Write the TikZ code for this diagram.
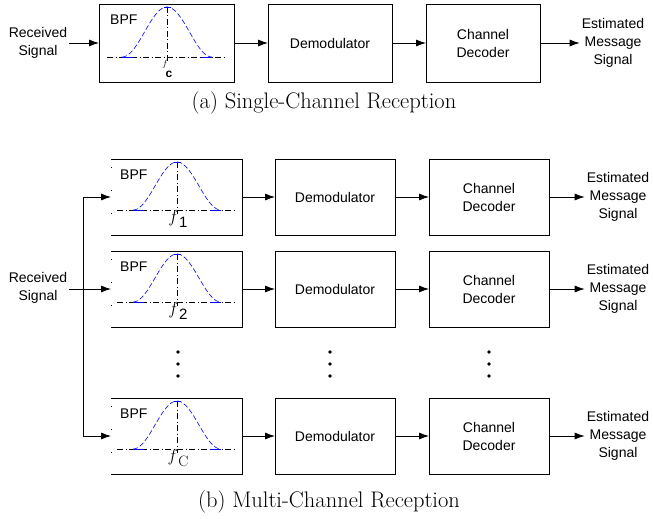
\documentclass[tikz,border=0pt]{standalone}
\usepackage{fontspec}
\setsansfont{Liberation Sans}
\usetikzlibrary{arrows.meta}

% Raised-cosine pass-band sketch inside a BPF box:
% #1 = centre x, #2 = baseline y, #3 = peak height, #4 = half width
\newcommand{\passband}[4]{%
  \draw[gausscurve] plot[domain=-#4:#4, samples=70]
    ({#1+\x}, {#2-#3*(1+cos(180*\x/#4))/2});
  \draw[gausstail] (#1-#4,#2) -- (#1-#4+11,#2);
  \draw[gausstail] (#1+#4-11,#2) -- (#1+#4,#2);
  \draw[gausstail] (#1-3.5,#2-#3) -- (#1+3.5,#2-#3);
}

\begin{document}
\begin{tikzpicture}[x=1pt, y=-1pt,
  blk/.style={draw, line width=0.9pt, inner sep=0pt, outer sep=0pt,
              font=\sffamily\fontsize{14}{18}\selectfont, align=center},
  frame/.style={line width=0.9pt},
  lbl/.style={font=\sffamily\fontsize{14}{18}\selectfont, align=center, inner sep=2pt},
  subcaption/.style={font=\rmfamily\fontsize{22.5}{24}\selectfont, inner sep=0pt},
  arr/.style={line width=0.8pt, -{Latex[length=10pt, width=7pt]}},
  axisline/.style={line width=0.7pt, dash pattern=on 6pt off 2.5pt on 1pt off 2.5pt},
  gausscurve/.style={blue, line width=0.6pt, dash pattern=on 5pt off 2.5pt},
  gausstail/.style={blue, line width=0.8pt},
  leftdots/.style={line width=0.9pt, dash pattern=on 1pt off 22pt},
  dot/.style={circle, fill, inner sep=0pt, minimum size=3.6pt}]

\useasboundingbox (0,0) rectangle (653,519);

% ---------------- (a) single-channel receiver ----------------
\node[lbl] (recvA) at (38,43) {Received\\Signal};
\node[blk, minimum width=135, minimum height=78, anchor=north west] (bpfA) at (99,4) {};
\node[blk, minimum width=124, minimum height=78, anchor=north west] (demA) at (268,4) {Demodulator};
\node[blk, minimum width=114, minimum height=78, anchor=north west] (decA) at (426,4) {Channel\\Decoder};
\node[lbl] (outA) at (613,43) {Estimated\\Message\\Signal};

\node[lbl, anchor=west] (bpfAname) at (108,20) {BPF};
\draw[axisline] (107,57) -- (226,57);
\draw[axisline] (167,7) -- (167,62);
\passband{167}{57}{50}{45}
\node[inner sep=0pt, font=\fontsize{9}{9}\selectfont] (fA) at (165,64) {$f$};
\node[inner sep=0pt, font=\sffamily\bfseries\fontsize{12}{12}\selectfont] (cA) at (169,74) {c};

\draw[arr] (recvA.east) -- (bpfA.west);
\draw[arr] (bpfA.east) -- (demA.west);
\draw[arr] (demA.east) -- (decA.west);
\draw[arr] (decA.east) -- (outA.west);

\node[subcaption] (capA) at (324,103) {(a)\ Single-Channel Reception};

% ---------------- (b) multi-channel receiver ----------------
\foreach \r/\T/\sub in {1/159/\sffamily 1, 2/251/\sffamily 2, 3/398/\rmfamily C} {
  \node[minimum width=131, minimum height=76, inner sep=0pt, outer sep=0pt,
        anchor=north west] (bpf\r) at (111,\T) {};
  \draw[frame] (bpf\r.north west) -- (bpf\r.north east) -- (bpf\r.south east) -- (bpf\r.south west);
  \draw[leftdots] ([yshift=-8pt]bpf\r.north west) -- (bpf\r.south west);
  \node[lbl, anchor=west] (bpfname\r) at (118,\T+16) {BPF};
  \draw[axisline] (117,\T+51) -- (236,\T+51);
  \draw[axisline] (177,\T+3) -- (177,\T+55);
  \passband{177}{\T+51}{48}{44}
  \node[inner sep=0pt, anchor=base, font=\fontsize{17}{17}\selectfont] (freq\r) at (178,\T+63)
    {$f$\kern0.5pt\raisebox{-5pt}{\fontsize{15}{15}\selectfont\sub}};
  \node[blk, minimum width=120, minimum height=76, anchor=north west] (dem\r) at (275,\T) {Demodulator};
  \node[blk, minimum width=120, minimum height=76, anchor=north west] (dec\r) at (429,\T) {Channel\\Decoder};
  \node[lbl] (out\r) at (618,\T+38) {Estimated\\Message\\Signal};
  \draw[arr] (bpf\r.east) -- (dem\r.west);
  \draw[arr] (dem\r.east) -- (dec\r.west);
  \draw[arr] (dec\r.east) -- (out\r.west);
}

\node[lbl] (recvB) at (38,288) {Received\\Signal};
\coordinate (split) at (83,289);
\draw[arr] (recvB.east |- split) -- (bpf2.west);
\draw[arr] (split) |- (bpf1.west);
\draw[arr] (split) |- (bpf3.west);

% vertical ellipses between the second and last rows
\foreach \xx/\nm in {178/f, 330/d, 489/c} {
  \node[dot] (\nm1) at (\xx,352) {};
  \node[dot] (\nm2) at (\xx,364) {};
  \node[dot] (\nm3) at (\xx,376) {};
}

\node[subcaption] (capB) at (329,502) {(b)\ Multi-Channel Reception};

\end{tikzpicture}
\end{document}
